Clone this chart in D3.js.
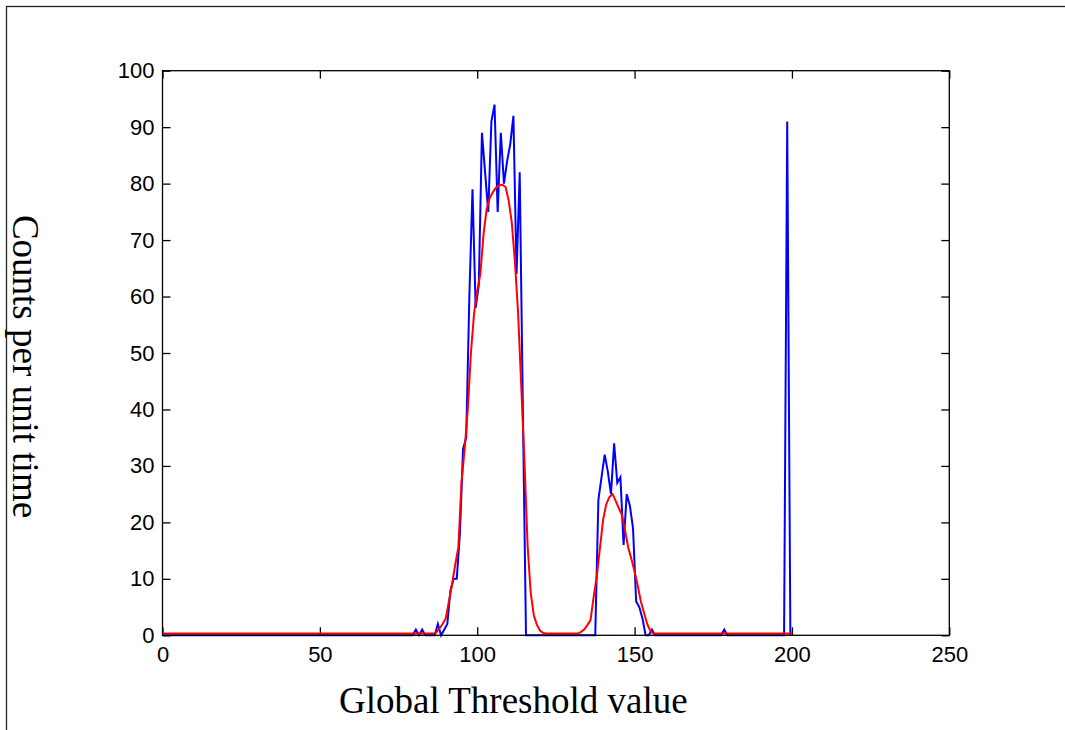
<!DOCTYPE html>
<html>
<head>
<meta charset="utf-8">
<script src="https://cdn.jsdelivr.net/npm/d3@7"></script>
<style>
  body { margin: 0; background: #fff; }
  .tick text { font-family: "Liberation Sans", Arial, sans-serif; font-size: 22px; fill: #000; }
  .tick line { stroke: #000; stroke-width: 1.3; }
  .axis-title { font-family: "Liberation Serif", "Times New Roman", serif; font-size: 37px; fill: #000; }
</style>
</head>
<body>
<div id="chart"></div>
<script>
// ======================================
// Data
// ======================================
// measured counts, one per threshold bin (bin centre = index + 0.5)
var countsRaw = [
  0, 0, 0, 0, 0, 0, 0, 0, 0, 0, 0, 0, 0, 0, 0, 0, 0, 0, 0, 0,
  0, 0, 0, 0, 0, 0, 0, 0, 0, 0, 0, 0, 0, 0, 0, 0, 0, 0, 0, 0,
  0, 0, 0, 0, 0, 0, 0, 0, 0, 0, 0, 0, 0, 0, 0, 0, 0, 0, 0, 0,
  0, 0, 0, 0, 0, 0, 0, 0, 0, 0, 0, 0, 0, 0, 0, 0, 0, 0, 0, 0,
  1, 0, 1, 0, 0, 0, 0, 2, 0, 1, 2, 8, 10, 10, 18, 33, 35, 60, 79, 58,
  62, 89, 82, 75, 91, 94, 75, 89, 80, 84, 87, 92, 64, 82, 40, 0, 0, 0, 0, 0,
  0, 0, 0, 0, 0, 0, 0, 0, 0, 0, 0, 0, 0, 0, 0, 0, 0, 0, 24, 28,
  32, 29, 25, 34, 27, 28, 16, 25, 23, 19, 6, 5, 3, 0, 0, 1, 0, 0, 0, 0,
  0, 0, 0, 0, 0, 0, 0, 0, 0, 0, 0, 0, 0, 0, 0, 0, 0, 0, 1, 0,
  0, 0, 0, 0, 0, 0, 0, 0, 0, 0, 0, 0, 0, 0, 0, 0, 0, 0, 91, 0
];

// fitted (smoothed) curve
var fitX = [0, 86, 87, 88, 89, 90, 91, 92, 93, 94, 95, 96, 97, 98, 99,
  100, 101, 102, 103, 104, 105, 106, 107, 108, 109, 110, 111, 112, 113, 114,
  115, 116, 117, 118, 119, 120, 121, 122, 132, 133, 134, 135, 136, 137, 138,
  139, 140, 141, 142, 143, 144, 145, 146, 147, 148, 149, 150, 151, 152, 153,
  154, 155, 156, 200];
var fitY = [0.3, 0.3, 0.5, 1.2, 2, 3, 6, 9, 12.5, 15.5, 27, 33, 40, 50, 57,
  61, 64, 71, 75.5, 77.5, 78.5, 79.3, 79.7, 79.8, 79.4, 77, 73, 66, 57, 44,
  31, 16, 7.5, 3.5, 1.8, 0.8, 0.4, 0.3, 0.3, 0.6, 1, 1.8, 2.7, 6.8, 10.5,
  15.5, 20.5, 23.2, 24.5, 25, 23.8, 22.5, 21.3, 18.5, 15.5, 13.5, 11.3, 8.8, 6, 4,
  2, 0.8, 0.3, 0.3];

var xTicks = [0, 50, 100, 150, 200, 250];
var yTicks = [0, 10, 20, 30, 40, 50, 60, 70, 80, 90, 100];

var xTitle = "Global Threshold value";
var yTitle = "Counts per unit time";

// ======================================
// Layout
// ======================================
var svgWidth = 1065;
var svgHeight = 730;

var margin = { top: 70.7, left: 162.5 };
var width = 786.8;
var height = 564.6;
var tickLen = 8;

var svg = d3.select("#chart")
  .append("svg")
  .attr("width", svgWidth)
  .attr("height", svgHeight);

svg.append("rect")
  .attr("width", svgWidth)
  .attr("height", svgHeight)
  .attr("fill", "#fff");

// figure frame (only left and top edges fall inside the picture)
svg.append("rect")
  .attr("x", 6.5)
  .attr("y", 6.5)
  .attr("width", svgWidth + 20)
  .attr("height", svgHeight + 20)
  .attr("fill", "none")
  .attr("stroke", "#222")
  .attr("stroke-width", 1.3);

var chartGroup = svg.append("g")
  .attr("transform", `translate(${margin.left}, ${margin.top})`);

var xScale = d3.scaleLinear().domain([0, 250]).range([0, width]);
var yScale = d3.scaleLinear().domain([0, 100]).range([height, 0]);

// ======================================
// Axes (ticks point inward, on all four sides)
// ======================================
chartGroup.append("g")
  .attr("transform", `translate(0, ${height})`)
  .call(d3.axisBottom(xScale).tickValues(xTicks).tickSizeInner(-tickLen).tickSizeOuter(0).tickPadding(11));

chartGroup.append("g")
  .call(d3.axisTop(xScale).tickValues(xTicks).tickSizeInner(-tickLen).tickSizeOuter(0).tickFormat(""));

chartGroup.append("g")
  .call(d3.axisLeft(yScale).tickValues(yTicks).tickSizeInner(-tickLen).tickSizeOuter(0).tickPadding(8));

chartGroup.append("g")
  .attr("transform", `translate(${width}, 0)`)
  .call(d3.axisRight(yScale).tickValues(yTicks).tickSizeInner(-tickLen).tickSizeOuter(0).tickFormat(""));

chartGroup.selectAll(".domain").remove();

// ======================================
// Lines
// ======================================
var line = d3.line()
  .x(d => xScale(d[0]))
  .y(d => yScale(d[1]));

var countsData = countsRaw.map((v, i) => [i + 0.5, v]);
var fitData = fitX.map((v, i) => [v, fitY[i]]);

chartGroup.append("path")
  .datum(countsData)
  .attr("d", line)
  .attr("fill", "none")
  .attr("stroke", "#0000ff")
  .attr("stroke-width", 2)
  .attr("stroke-linejoin", "miter");

chartGroup.append("path")
  .datum(fitData)
  .attr("d", line)
  .attr("fill", "none")
  .attr("stroke", "#ff0000")
  .attr("stroke-width", 2);

// plot box
chartGroup.append("rect")
  .attr("width", width)
  .attr("height", height)
  .attr("fill", "none")
  .attr("stroke", "#000")
  .attr("stroke-width", 1.3);

// ======================================
// Titles
// ======================================
svg.append("text")
  .attr("class", "axis-title")
  .attr("x", 513.3)
  .attr("y", 712.7)
  .attr("text-anchor", "middle")
  .text(xTitle);

svg.append("text")
  .attr("class", "axis-title")
  .attr("transform", "translate(13, 366.5) rotate(90)")
  .attr("text-anchor", "middle")
  .text(yTitle);
</script>
</body>
</html>
